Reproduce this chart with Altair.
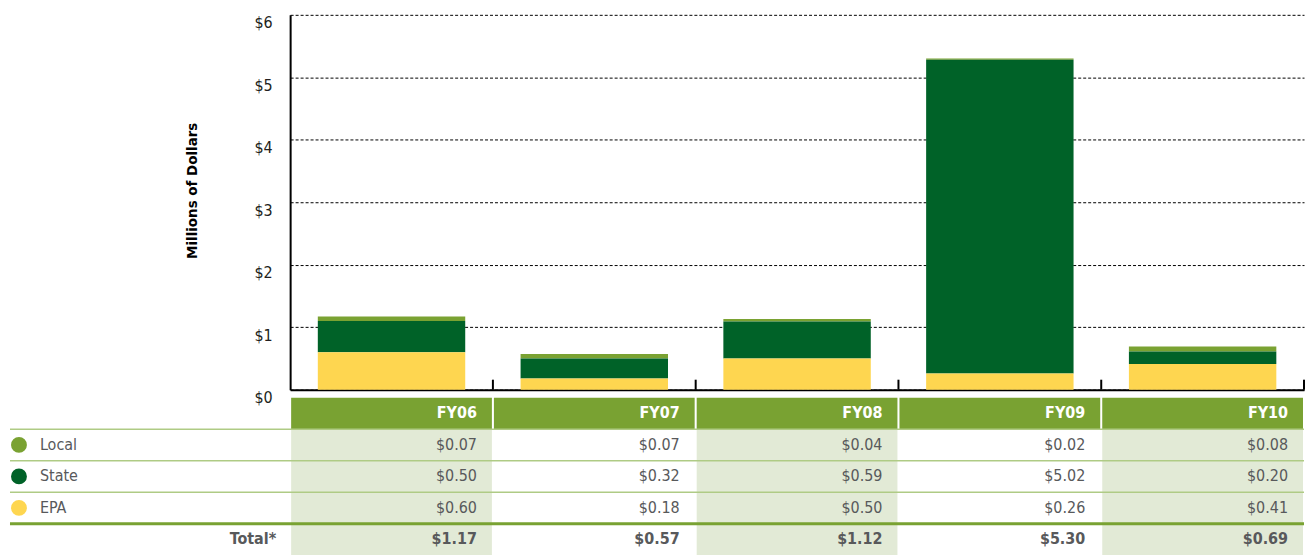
import altair as alt
import pandas as pd

# ---- data ----
years = ["FY06", "FY07", "FY08", "FY09", "FY10"]
sources = ["Local", "State", "EPA"]
local_vals = [0.07, 0.07, 0.04, 0.02, 0.08]
state_vals = [0.50, 0.32, 0.59, 5.02, 0.20]
epa_vals = [0.60, 0.18, 0.50, 0.26, 0.41]
totals = [1.17, 0.57, 1.12, 5.30, 0.69]
y_ticks = [0, 1, 2, 3, 4, 5, 6]
shaded_years = ["FY06", "FY08", "FY10"]
table_rows = ["header", "Local", "State", "EPA", "Total*"]

# ---- styles ----
FONT = "Liberation Sans Narrow, DejaVu Sans Condensed, sans-serif"
C_LOCAL = "#7AA232"
C_STATE = "#006228"
C_EPA = "#FED650"
C_HEADER = "#79A232"
C_SHADE = "#E2EAD6"
C_LINE = "#AFCB85"
C_TEXT = "#58595B"
src_colors = [C_LOCAL, C_STATE, C_EPA]
stack_order = {"EPA": 0, "State": 1, "Local": 2}

series = {"Local": local_vals, "State": state_vals, "EPA": epa_vals}
bar_rows = []
for s in sources:
    for y, v in zip(years, series[s]):
        bar_rows.append({"year": y, "source": s, "value": v, "order": stack_order[s]})
bar_df = pd.DataFrame(bar_rows)
years_df = pd.DataFrame({"year": years})

LEFT = 281
PLOT_W = 1017
PLOT_H = 376
TABLE_H = 158

x_top = alt.Scale(domain=years, paddingInner=0, paddingOuter=0)

bars = alt.Chart(bar_df).mark_bar(width=alt.RelativeBandSize(0.727)).encode(
    x=alt.X("year:N", sort=years, scale=x_top,
            axis=alt.Axis(labels=False, ticks=False, title=None, domain=True,
                          domainColor="black", domainWidth=2, grid=False)),
    y=alt.Y("value:Q", stack="zero", scale=alt.Scale(domain=[0, 6], nice=False),
            axis=alt.Axis(values=y_ticks, labelExpr="'$' + datum.value",
                          grid=True, gridDash=[3, 2], gridColor="black", gridWidth=1,
                          domain=True, domainColor="black", domainWidth=2,
                          ticks=False, labelPadding=18, labelBaseline="top",
                          labelFont=FONT, labelFontSize=16, labelColor="#231F20",
                          title="Millions of Dollars", titleFont=FONT, titleFontSize=15,
                          titleFontWeight="bold", titleColor="black", titlePadding=55,
                          titleY=176)),
    color=alt.Color("source:N", scale=alt.Scale(domain=sources, range=src_colors), legend=None),
    order=alt.Order("order:Q"),
)

ticks = alt.Chart(years_df).mark_rule(color="black", strokeWidth=2).encode(
    x=alt.X("year:N", sort=years, scale=x_top, bandPosition=1),
    y=alt.value(PLOT_H - 10),
    y2=alt.value(PLOT_H),
)

top = alt.layer(bars, ticks).properties(width=PLOT_W, height=PLOT_H)

# ---- table ----
cell_rows = []
for y in years:
    cell_rows.append({"year": y, "row": "header", "fill": C_HEADER})
for r in table_rows[1:]:
    for y in shaded_years:
        cell_rows.append({"year": y, "row": r, "fill": C_SHADE})
cells_df = pd.DataFrame(cell_rows)

val_rows = []
for s in sources:
    for y, v in zip(years, series[s]):
        val_rows.append({"year": y, "row": s, "label": f"${v:.2f}"})
val_df = pd.DataFrame(val_rows)
tot_df = pd.DataFrame({"year": years, "row": ["Total*"] * 5,
                       "label": [f"${v:.2f}" for v in totals]})
head_df = pd.DataFrame({"year": years, "row": ["header"] * 5, "label": years})
legend_df = pd.DataFrame({"row": sources, "source": sources})
thin_df = pd.DataFrame({"row": sources})
thick_df = pd.DataFrame({"row": ["Total*"]})
totlab_df = pd.DataFrame({"row": ["Total*"], "label": ["Total*"]})

x_tab = alt.Scale(domain=years, paddingInner=0.01, paddingOuter=0.005)
y_tab = alt.Scale(domain=table_rows, paddingInner=0, paddingOuter=0)
X = alt.X("year:N", sort=years, scale=x_tab, axis=None)
Y = alt.Y("row:N", sort=table_rows, scale=y_tab, axis=None)

rects = alt.Chart(cells_df).mark_rect().encode(
    x=X, y=Y, color=alt.Color("fill:N", scale=None))

thin_lines = alt.Chart(thin_df).mark_rule(color=C_LINE, strokeWidth=1.5).encode(
    y=alt.Y("row:N", sort=table_rows, scale=y_tab, axis=None, bandPosition=0),
    x=alt.value(-LEFT), x2=alt.value(PLOT_W))

thick_line = alt.Chart(thick_df).mark_rule(color=C_HEADER, strokeWidth=3).encode(
    y=alt.Y("row:N", sort=table_rows, scale=y_tab, axis=None, bandPosition=0),
    x=alt.value(-LEFT), x2=alt.value(PLOT_W))

Xr = alt.X("year:N", sort=years, scale=x_tab, axis=None, bandPosition=1)

head_text = alt.Chart(head_df).mark_text(
    align="right", baseline="middle", dx=-15, font=FONT, fontSize=16,
    fontWeight="bold", color="white").encode(x=Xr, y=Y, text="label:N")

val_text = alt.Chart(val_df).mark_text(
    align="right", baseline="middle", dx=-15, font=FONT, fontSize=16,
    color=C_TEXT).encode(x=Xr, y=Y, text="label:N")

tot_text = alt.Chart(tot_df).mark_text(
    align="right", baseline="middle", dx=-15, font=FONT, fontSize=16,
    fontWeight="bold", color=C_TEXT).encode(x=Xr, y=Y, text="label:N")

dots = alt.Chart(legend_df).mark_point(filled=True, size=254, opacity=1).encode(
    x=alt.value(-LEFT + 9), y=Y,
    color=alt.Color("source:N", scale=alt.Scale(domain=sources, range=src_colors), legend=None))

leg_text = alt.Chart(legend_df).mark_text(
    align="left", baseline="middle", font=FONT, fontSize=16, color=C_TEXT).encode(
    x=alt.value(-LEFT + 30), y=Y, text="source:N")

totlab = alt.Chart(totlab_df).mark_text(
    align="right", baseline="middle", font=FONT, fontSize=16, fontWeight="bold",
    color=C_TEXT).encode(x=alt.value(-14), y=Y, text="label:N")

table = alt.layer(rects, thin_lines, thick_line, head_text, val_text, tot_text,
                  dots, leg_text, totlab).properties(width=PLOT_W, height=TABLE_H)

chart = alt.vconcat(top, table, spacing=8, bounds="flush").resolve_scale(
    x="independent", y="independent", color="independent"
).properties(
    padding={"left": 0, "top": 6, "right": 0, "bottom": 0}
).configure_view(stroke=None)

chart.save("out.html", embed_options={"renderer": "svg", "actions": False})
